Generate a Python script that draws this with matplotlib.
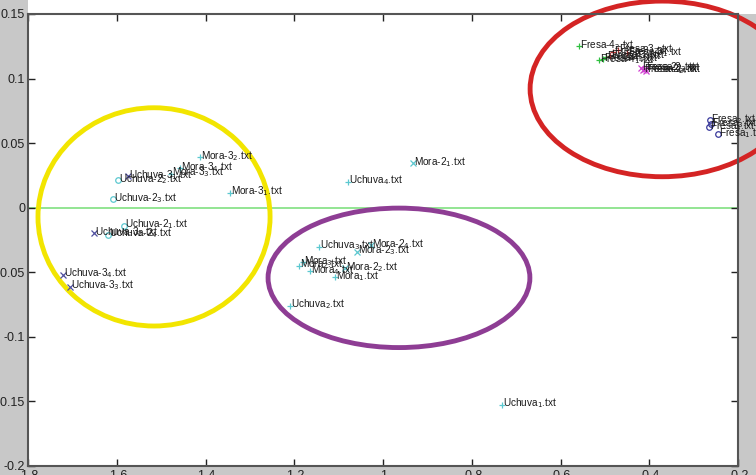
import numpy as np
import matplotlib
matplotlib.use("Agg")
import matplotlib.pyplot as plt
from matplotlib.patches import Ellipse, Rectangle

plt.rcParams['font.family'] = ['Liberation Sans Narrow', 'Liberation Sans', 'DejaVu Sans']
plt.rcParams['mathtext.fontset'] = 'custom'
plt.rcParams['mathtext.rm'] = 'Liberation Sans Narrow'
plt.rcParams['mathtext.it'] = 'Liberation Sans Narrow'

# groups: (name, x values, y values), samples numbered 1..4
fresa_x = [-0.245, -0.263, -0.261, -0.265]
fresa_y = [0.0571, 0.0680, 0.0649, 0.0625]
fresa2_x = [-0.419, -0.414, -0.410, -0.407]
fresa2_y = [0.1082, 0.1067, 0.1075, 0.1060]
fresa3_x = [-0.450, -0.470, -0.482, -0.488]
fresa3_y = [0.1198, 0.1220, 0.1205, 0.1175]
fresa4_x = [-0.513, -0.558, -0.497, -0.504]
fresa4_y = [0.1144, 0.1252, 0.1167, 0.1152]
mora_x = [-1.108, -1.189, -1.180, -1.165]
mora_y = [-0.0536, -0.0450, -0.0420, -0.0490]
mora2_x = [-0.932, -1.086, -1.059, -1.027]
mora2_y = [0.0347, -0.0466, -0.0342, -0.0288]
mora3_x = [-1.345, -1.412, -1.478, -1.457]
mora3_y = [0.0115, 0.0390, 0.0262, 0.0308]
uchuva_x = [-0.732, -1.210, -1.144, -1.079]
uchuva_y = [-0.1526, -0.0760, -0.0303, 0.0200]
uchuva2_x = [-1.584, -1.597, -1.608, -1.620]
uchuva2_y = [-0.0140, 0.0215, 0.0068, -0.0210]
uchuva3_x = [-1.575, -1.651, -1.705, -1.721]
uchuva3_y = [0.0246, -0.0195, -0.0613, -0.0520]

groups = [
    ('Fresa', fresa_x, fresa_y, 'o', '#3a3a9c'),
    ('Fresa-2', fresa2_x, fresa2_y, 'x', '#d040d0'),
    ('Fresa-3', fresa3_x, fresa3_y, '+', '#b83030'),
    ('Fresa-4', fresa4_x, fresa4_y, '+', '#30c040'),
    ('Mora', mora_x, mora_y, '+', '#5cc8d0'),
    ('Mora-2', mora2_x, mora2_y, 'x', '#5cc8d0'),
    ('Mora-3', mora3_x, mora3_y, '+', '#5cc8d0'),
    ('Uchuva', uchuva_x, uchuva_y, '+', '#5cc8d0'),
    ('Uchuva-2', uchuva2_x, uchuva2_y, 'o', '#5cc8d0'),
    ('Uchuva-3', uchuva3_x, uchuva3_y, 'x', '#5050a0'),
]

xticks = [-1.8, -1.6, -1.4, -1.2, -1.0, -0.8, -0.6, -0.4, -0.2]
xtick_labels = ['-1.8', '-1.6', '-1.4', '-1.2', '-1', '-0.8', '-0.6', '-0.4', '-0.2']
yticks = [-0.2, -0.15, -0.1, -0.05, 0, 0.05, 0.1, 0.15]
ytick_labels = ['-0.2', '-0.15', '-0.1', '-0.05', '0', '0.05', '0.1', '0.15']

fig = plt.figure(figsize=(7.56, 4.75), dpi=100, facecolor='#c8c8c8')
fig.add_artist(Rectangle((28/756, 461/475), 1, 14/475, transform=fig.transFigure,
                         facecolor='white', edgecolor='none', zorder=-1))
ax = fig.add_axes([28/756, 9/475, 710/756, 452/475])

ax.axhline(0, color='#80e080', lw=1.2, zorder=1)

for name, xs, ys, mk, col in groups:
    ax.plot(xs, ys, ls='none', marker=mk, ms=4.5 if mk != 'o' else 4,
            mfc='none', mec=col, mew=0.9, zorder=3)
    for i, (x, y) in enumerate(zip(xs, ys)):
        ax.text(x + 0.002, y + 0.001, name + '$_{%d}$.txt' % (i + 1), fontsize=7.2,
                ha='left', va='center', color='#1a1a1a', clip_on=False, zorder=4)

# hand drawn group circles
ax.add_patch(Ellipse((-1.516, -0.0071), 0.523, 0.169, fill=False, ec='#f2e500',
                     lw=3.5, clip_on=False, zorder=2))
ax.add_patch(Ellipse((-0.964, -0.0543), 0.590, 0.108, fill=False, ec='#8e3d94',
                     lw=3.5, clip_on=False, zorder=2))
ax.add_patch(Ellipse((-0.371, 0.092), 0.595, 0.136, fill=False, ec='#d42424',
                     lw=3.5, clip_on=False, zorder=2))

ax.set_xlim(-1.8, -0.2)
ax.set_ylim(-0.2, 0.15)
ax.set_xticks(xticks)
ax.set_xticklabels(xtick_labels)
ax.set_yticks(yticks)
ax.set_yticklabels(ytick_labels)
ax.tick_params(direction='in', length=5, width=1, top=True, right=True,
               labelsize=9, colors='#222222', pad=3)
ax.tick_params(axis='y', pad=2)
for s in ax.spines.values():
    s.set_color('#555555')
    s.set_linewidth(1.5)

fig.savefig('out.png', dpi=100, facecolor=fig.get_facecolor())
